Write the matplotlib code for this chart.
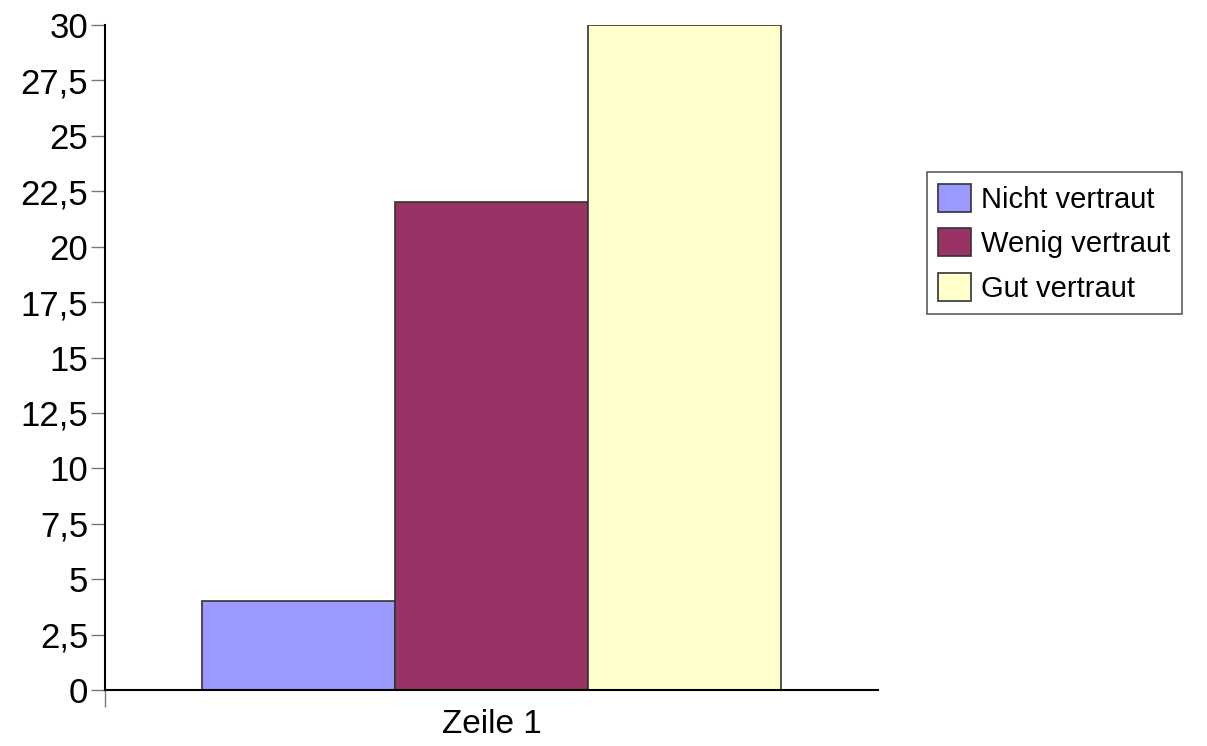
import matplotlib.pyplot as plt
import numpy as np

plt.rcParams['font.family'] = ['Liberation Sans', 'DejaVu Sans']

categories = ["Zeile 1"]
series = ["Nicht vertraut", "Wenig vertraut", "Gut vertraut"]
values = [4, 22, 30]
colors = ["#9999ff", "#993366", "#ffffcc"]
yticks = np.arange(0, 30.1, 2.5)

fig = plt.figure(figsize=(12.07, 7.46), dpi=100)
ax = fig.add_axes([0.087, 0.075, 0.6405, 0.8915])

width = 0.25
offsets = [-0.25, 0.0, 0.25]
for name, v, c, off in zip(series, values, colors, offsets):
    ax.bar(0 + off, v, width, color=c, edgecolor="#333333", linewidth=1.2, label=name)

ax.set_xlim(-0.5, 0.5)
ax.set_ylim(0, 30)
ax.set_yticks(yticks)
ax.set_yticklabels([("%g" % t).replace(".", ",") for t in yticks], fontsize=25)
ax.tick_params(axis="y", direction="out", length=10, width=1, color="#777777", pad=2)

ax.set_xticks([0])
ax.set_xticklabels(categories, fontsize=24)
ax.tick_params(axis="x", which="major", length=0, pad=14)
ax.set_xticks([-0.5], minor=True)
ax.tick_params(axis="x", which="minor", direction="out", length=12, width=1, color="#777777")

ax.spines["top"].set_visible(False)
ax.spines["right"].set_visible(False)
ax.spines["left"].set_linewidth(1.5)
ax.spines["bottom"].set_linewidth(1.5)

leg = ax.legend(loc="upper left", bbox_to_anchor=(1.063, 0.779), fontsize=21,
                frameon=True, fancybox=False, edgecolor="#333333",
                handlelength=1.1, handleheight=1.1, handletextpad=0.35,
                borderpad=0.4, labelspacing=0.5, borderaxespad=0)
leg.get_frame().set_linewidth(1.2)

plt.savefig("out.png", dpi=100)
